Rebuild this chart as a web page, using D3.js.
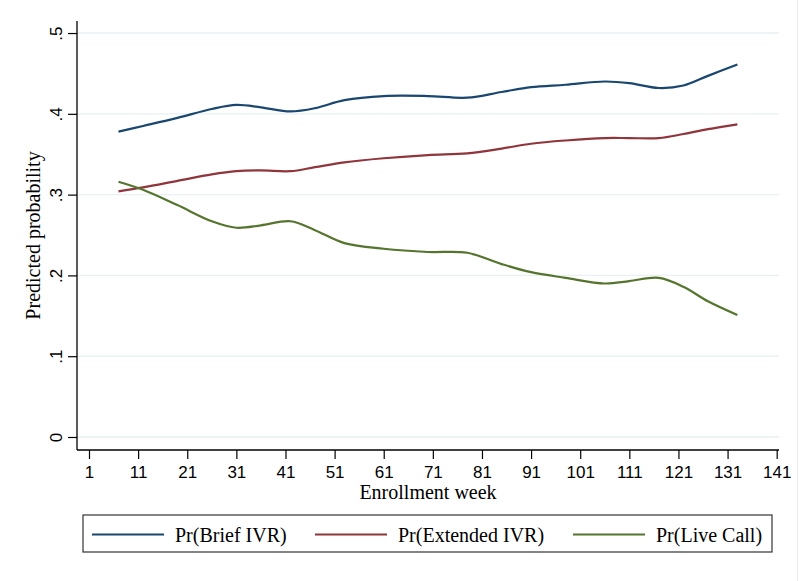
<!DOCTYPE html>
<html>
<head>
<meta charset="utf-8">
<script src="https://cdn.jsdelivr.net/npm/d3@7"></script>
<style>
  html, body { margin: 0; padding: 0; background: #fff; }
  svg { display: block; }
</style>
</head>
<body>
<svg id="chart" width="800" height="581"></svg>
<script>
// ---- data ----
const weeks = [7, 12, 19, 26, 31, 36, 42, 47, 53, 61, 70, 78, 85, 91, 98, 106, 111, 117, 122, 127, 133];
const briefIVR = [0.378, 0.385, 0.395, 0.406, 0.411, 0.408, 0.403, 0.407, 0.417, 0.422, 0.422, 0.420, 0.427, 0.433, 0.436, 0.440, 0.438, 0.432, 0.435, 0.447, 0.461];
const extendedIVR = [0.304, 0.309, 0.317, 0.325, 0.329, 0.330, 0.329, 0.334, 0.340, 0.345, 0.349, 0.351, 0.357, 0.363, 0.367, 0.370, 0.370, 0.370, 0.375, 0.381, 0.387];
const liveCall = [0.316, 0.306, 0.287, 0.267, 0.259, 0.262, 0.267, 0.256, 0.240, 0.233, 0.229, 0.228, 0.214, 0.204, 0.197, 0.190, 0.193, 0.197, 0.186, 0.168, 0.151];
const seriesNames = ["Pr(Brief IVR)", "Pr(Extended IVR)", "Pr(Live Call)"];
const seriesColors = ["#1a476f", "#90353b", "#55752f"];
const xTicks = [1, 11, 21, 31, 41, 51, 61, 71, 81, 91, 101, 111, 121, 131, 141];
const yTicks = [0, 0.1, 0.2, 0.3, 0.4, 0.5];
const xTitle = "Enrollment week";
const yTitle = "Predicted probability";

(function () {
const series = [briefIVR, extendedIVR, liveCall].map((vals, i) => ({
  name: seriesNames[i],
  color: seriesColors[i],
  values: weeks.map((w, j) => ({ x: w, y: vals[j] }))
}));

// ---- layout ----
const svg = d3.select("#chart");
const pL = 77, pR = 779, pT = 21, pB = 450;

const x = d3.scaleLinear().domain([-1.443, 141.47]).range([pL, pR]);
const y = d3.scaleLinear().domain([-0.0161, 0.5149]).range([pB, pT]);

// faint right border
svg.append("line").attr("x1", 797.5).attr("x2", 797.5).attr("y1", 0).attr("y2", 581)
  .attr("stroke", "#ececec").attr("stroke-width", 1);

// gridlines
svg.append("g").selectAll("line").data(yTicks).join("line")
  .attr("x1", pL).attr("x2", pR)
  .attr("y1", d => y(d)).attr("y2", d => y(d))
  .attr("stroke", "#e9f1f3").attr("stroke-width", 1.4);

const fmt = d => d === 0 ? "0" : d3.format(".1f")(d).replace(/^0/, "");

// x axis
const gx = svg.append("g").attr("transform", `translate(0,${pB})`)
  .call(d3.axisBottom(x).tickValues(xTicks).tickSize(9).tickSizeOuter(0).tickPadding(5));
gx.select(".domain").remove();
gx.selectAll(".tick line").attr("stroke", "#000").attr("stroke-width", 1.2);
gx.selectAll(".tick text").attr("font-family", "'Liberation Sans', Arial, Helvetica, sans-serif")
  .attr("font-size", 17).attr("fill", "#000").attr("dy", null).attr("y", 28);
svg.append("line").attr("x1", pL).attr("x2", pR).attr("y1", pB).attr("y2", pB)
  .attr("stroke", "#000").attr("stroke-width", 1.3);

// y axis
const gy = svg.append("g").attr("transform", `translate(${pL},0)`)
  .call(d3.axisLeft(y).tickValues(yTicks).tickFormat(fmt).tickSize(9).tickSizeOuter(0));
gy.select(".domain").remove();
gy.selectAll(".tick line").attr("stroke", "#000").attr("stroke-width", 1.2);
gy.selectAll(".tick text")
  .attr("font-family", "'Liberation Sans', Arial, Helvetica, sans-serif")
  .attr("font-size", 17).attr("fill", "#000")
  .attr("x", null).attr("dy", null)
  .attr("text-anchor", "middle")
  .attr("transform", "translate(-15.5,0) rotate(-90)");
svg.append("line").attr("x1", pL).attr("x2", pL).attr("y1", pT).attr("y2", pB)
  .attr("stroke", "#000").attr("stroke-width", 1.3);

// axis titles
svg.append("text").attr("x", (pL + pR) / 2).attr("y", 499)
  .attr("text-anchor", "middle")
  .attr("font-family", "'Liberation Serif', 'Times New Roman', serif")
  .attr("font-size", 20).attr("fill", "#000").text(xTitle);
svg.append("text")
  .attr("transform", `translate(39.5,${(pT + pB) / 2}) rotate(-90)`)
  .attr("text-anchor", "middle")
  .attr("font-family", "'Liberation Serif', 'Times New Roman', serif")
  .attr("font-size", 20).attr("fill", "#000").text(yTitle);

// lines
const line = d3.line().x(d => x(d.x)).y(d => y(d.y)).curve(d3.curveCatmullRom.alpha(0.5));
svg.append("g").selectAll("path").data(series).join("path")
  .attr("d", d => line(d.values))
  .attr("fill", "none")
  .attr("stroke", d => d.color)
  .attr("stroke-width", 2.2)
  .attr("stroke-linejoin", "round");

// legend
const legend = svg.append("g");
legend.append("rect").attr("x", 83).attr("y", 515).attr("width", 689).attr("height", 37)
  .attr("fill", "#fff").attr("stroke", "#333").attr("stroke-width", 1.2);
const legX = [92, 315, 573];
const items = legend.selectAll("g.item").data(series).join("g").attr("class", "item")
  .attr("transform", (d, i) => `translate(${legX[i]},0)`);
items.append("line").attr("x1", 0).attr("x2", 72).attr("y1", 534.5).attr("y2", 534.5)
  .attr("stroke", d => d.color).attr("stroke-width", 2.2);
items.append("text").attr("x", 83).attr("y", 541.5)
  .attr("font-family", "'Liberation Serif', 'Times New Roman', serif")
  .attr("font-size", 20).attr("fill", "#000").text(d => d.name);
})();
</script>
</body>
</html>
